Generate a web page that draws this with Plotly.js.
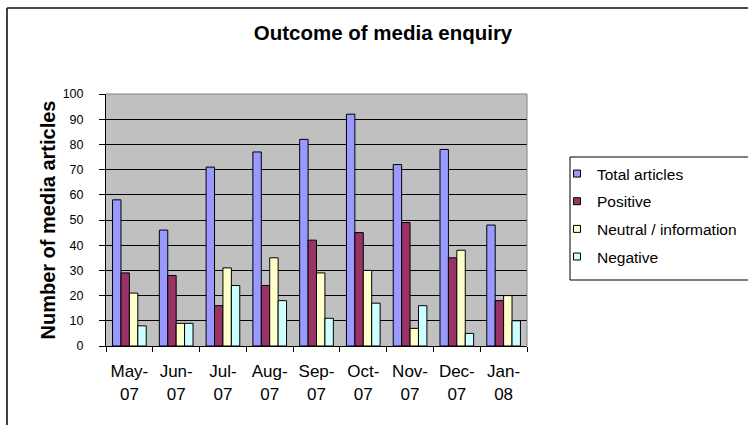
<!DOCTYPE html>
<html>
<head>
<meta charset="utf-8">
<script src="https://cdn.plot.ly/plotly-3.0.1.min.js"></script>
<style>
  html, body { margin: 0; padding: 0; background: #fff; overflow: hidden; }
  #chart { width: 748px; height: 425px; }
</style>
</head>
<body>
<div id="chart"></div>
<script>
// Monthly outcome of media enquiries, May 2007 – Jan 2008
const months = ['May-07', 'Jun-07', 'Jul-07', 'Aug-07', 'Sep-07', 'Oct-07', 'Nov-07', 'Dec-07', 'Jan-08'];
const tickLabels = ['May-<br>07', 'Jun-<br>07', 'Jul-<br>07', 'Aug-<br>07', 'Sep-<br>07', 'Oct-<br>07', 'Nov-<br>07', 'Dec-<br>07', 'Jan-<br>08'];

const seriesNames = ['Total articles', 'Positive', 'Neutral / information', 'Negative'];
const totalArticles = [58, 46, 71, 77, 82, 92, 72, 78, 48];
const positive = [29, 28, 16, 24, 42, 45, 49, 35, 18];
const neutral = [21, 9, 31, 35, 29, 30, 7, 38, 20];
const negative = [8, 9, 24, 18, 11, 17, 16, 5, 10];

const yTicks = [0, 10, 20, 30, 40, 50, 60, 70, 80, 90, 100];

const seriesValues = [totalArticles, positive, neutral, negative];
const seriesColors = ['#9999FF', '#993366', '#FFFFCC', '#CCFFFF'];

const FONT = '"Liberation Sans", Arial, sans-serif';

// plot-area geometry in pixels, used to place the frame lines in paper units
const M = { l: 106, r: 221, t: 94, b: 79 };
const W = 748, H = 425;
const PW = W - M.l - M.r, PH = H - M.t - M.b;
const px = x => (x - M.l) / PW;
const py = y => (H - M.b - y) / PH;

const traces = [];
seriesValues.forEach((vals, i) => {
  traces.push({
    type: 'bar',
    x: months,
    y: vals,
    name: seriesNames[i],
    showlegend: false,
    marker: { color: seriesColors[i], line: { color: '#000', width: 1 } },
    hoverinfo: 'x+y+name'
  });
});
// legend-only entries: a single blank point each, so the legend shows small square swatches
seriesNames.forEach((name, i) => {
  traces.push({
    type: 'scatter',
    mode: 'markers',
    x: [null],
    y: [null],
    name: name,
    showlegend: true,
    legendgroup: 'g' + i,
    hoverinfo: 'skip',
    marker: { symbol: 'square', size: 7, color: seriesColors[i], line: { color: '#000', width: 1 } }
  });
});

function paperLine(x0, y0, x1, y1, color, width) {
  return { type: 'line', xref: 'paper', yref: 'paper',
           x0: px(x0), y0: py(y0), x1: px(x1), y1: py(y1),
           line: { color: color, width: width } };
}

const layout = {
  width: W,
  height: H,
  showlegend: true,
  margin: { l: M.l, r: M.r, t: M.t, b: M.b, pad: 0, autoexpand: false },
  paper_bgcolor: '#fff',
  plot_bgcolor: '#C0C0C0',
  font: { family: FONT, color: '#000', size: 13 },
  barmode: 'group',
  bargap: 0.28,
  bargroupgap: 0,
  title: {
    text: '<b>Outcome of media enquiry</b>',
    font: { family: FONT, size: 20.5, color: '#000' },
    x: 383 / W,
    xanchor: 'center',
    y: 1 - 33 / H,
    yanchor: 'middle',
    xref: 'container',
    yref: 'container'
  },
  xaxis: {
    type: 'category',
    tickmode: 'array',
    tickvals: months,
    ticktext: tickLabels,
    tickangle: 0,
    tickson: 'boundaries',
    ticks: 'outside',
    ticklen: 5,
    tickcolor: '#000',
    tickwidth: 1,
    ticklabelstandoff: 10,
    tickfont: { family: FONT, size: 17, color: '#000' },
    showline: true,
    linecolor: '#000',
    linewidth: 1,
    showgrid: false,
    zeroline: false,
    fixedrange: true
  },
  yaxis: {
    range: [0, 100],
    tickmode: 'array',
    tickvals: yTicks,
    ticktext: yTicks.map(String),
    ticks: 'outside',
    ticklen: 6,
    tickcolor: '#000',
    tickwidth: 1,
    ticklabelstandoff: 13,
    tickfont: { family: FONT, size: 12.5, color: '#000' },
    showline: true,
    linecolor: '#000',
    linewidth: 1,
    showgrid: true,
    gridcolor: '#000',
    gridwidth: 1,
    zeroline: false,
    fixedrange: true
  },
  legend: {
    x: px(557),
    y: py(157),
    xanchor: 'left',
    yanchor: 'top',
    bgcolor: 'rgba(0,0,0,0)',
    borderwidth: 0,
    tracegroupgap: 4.5,
    font: { family: FONT, size: 15.5, color: '#000' }
  },
  annotations: [{
    text: '<b>Number of media articles</b>',
    xref: 'paper', yref: 'paper',
    x: px(47), y: py(220.5),
    xanchor: 'center', yanchor: 'middle',
    textangle: -90,
    showarrow: false,
    font: { family: FONT, size: 20, color: '#000' }
  }],
  shapes: [
    // plot-area frame (top and right edges in grey)
    { type: 'line', xref: 'paper', yref: 'paper', x0: 0, x1: 1, y0: 1, y1: 1, line: { color: '#808080', width: 1 } },
    { type: 'line', xref: 'paper', yref: 'paper', x0: 1, x1: 1, y0: 0, y1: 1, line: { color: '#808080', width: 1 } },
    // legend box, running off the right edge
    paperLine(570, 157, 770, 157, '#000', 1),
    paperLine(570, 280, 770, 280, '#000', 1),
    paperLine(570, 157, 570, 280, '#000', 1),
    // outer chart frame, top and left edges
    paperLine(7, 8, 770, 8, '#111', 1.6),
    paperLine(7, 8, 7, 450, '#111', 1.6)
  ]
};

Plotly.newPlot('chart', traces, layout, { displayModeBar: false, staticPlot: true });
</script>
</body>
</html>
